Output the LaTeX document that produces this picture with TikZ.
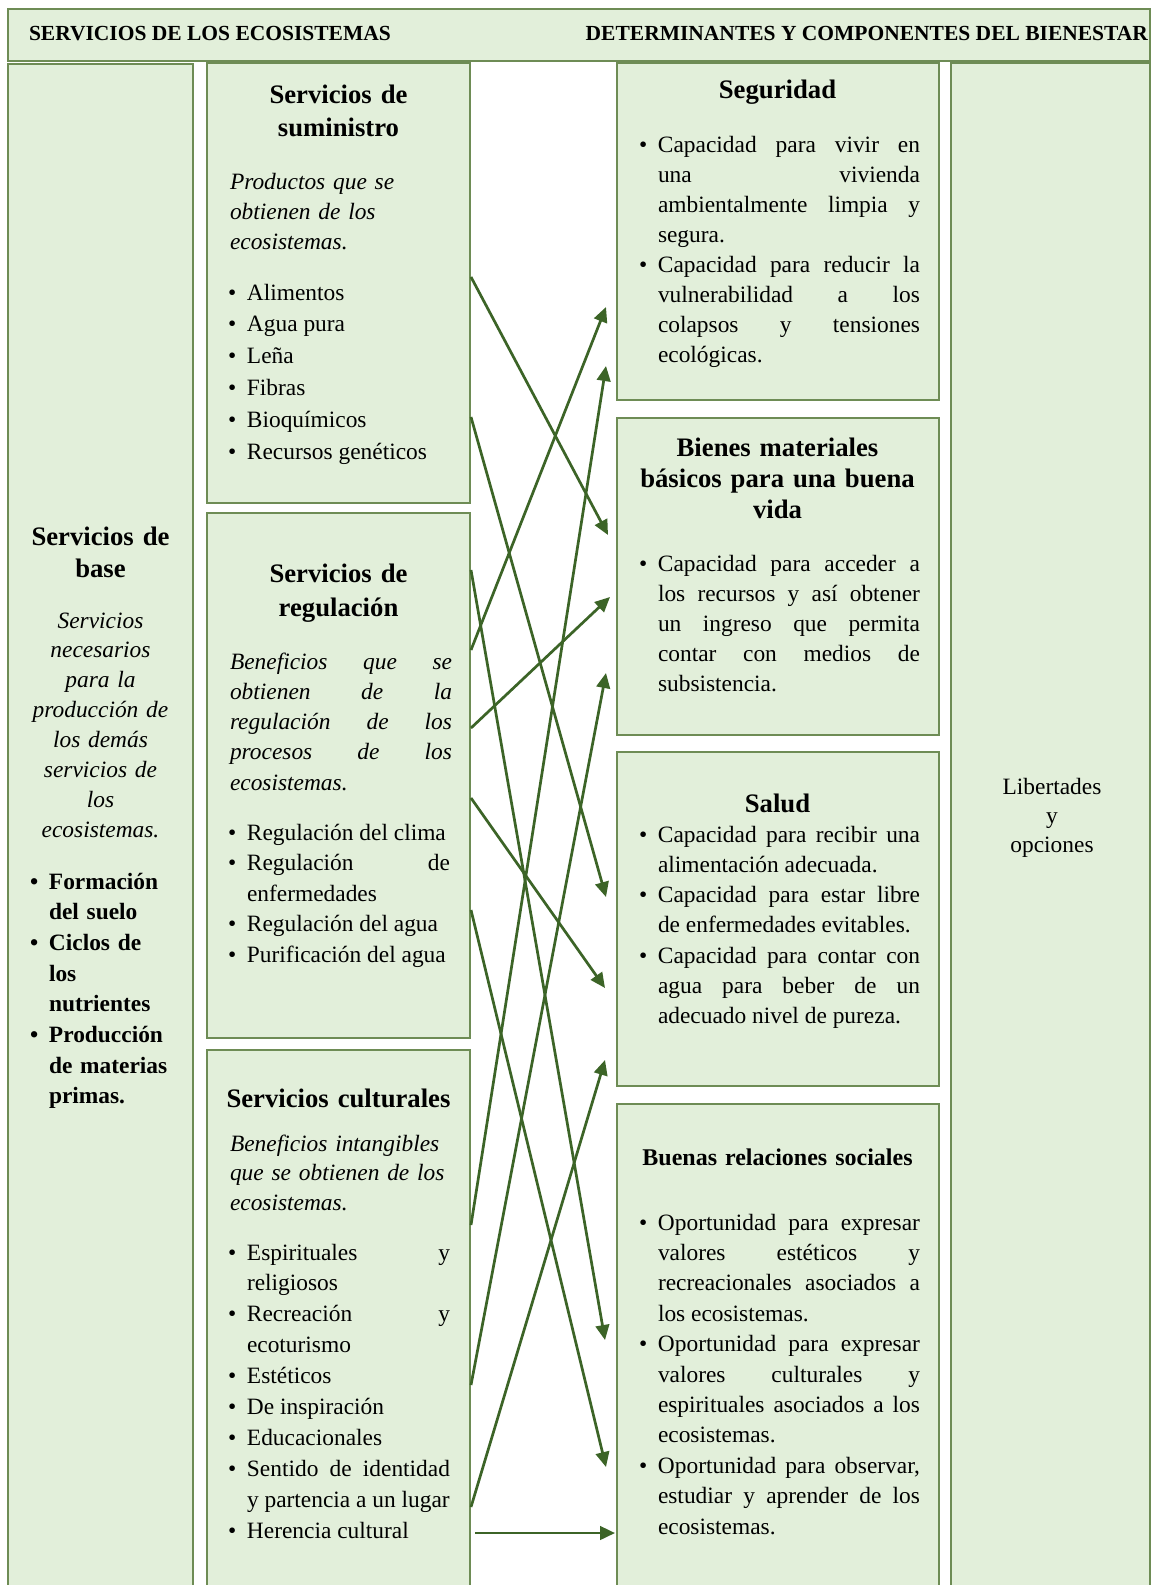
\documentclass[tikz,border=0pt]{standalone}
\usepackage{fontspec}
\setmainfont{Liberation Serif}
\usetikzlibrary{arrows.meta,calc}
\definecolor{boxfill}{HTML}{E2EFDA}
\definecolor{boxline}{HTML}{6E8C55}
\definecolor{arrowc}{HTML}{3C6427}
\newlength{\bh}
\newcommand{\bitem}[1]{\hangindent=\bh\hangafter=1\noindent\makebox[\bh][l]{\textbullet}#1\par}
\begin{document}
\begin{tikzpicture}[x=0.5pt,y=-0.5pt,
  box/.style={draw=boxline,fill=boxfill,line width=1pt,inner sep=0pt,outer sep=0pt,anchor=north west},
  arr/.style={draw=arrowc,line width=1.35pt,-{Triangle[length=7.5pt,width=6.8pt]}},
  txt/.style={inner sep=0pt,outer sep=0pt,text=black},
  headf/.style={txt,font=\fontsize{13.35pt}{#1}\selectfont\bfseries,align=center,anchor=base},
  ital/.style={txt,font=\fontsize{11.7pt}{#1}\selectfont\itshape,anchor=base west},
  bodyl/.style={txt,font=\fontsize{11.7pt}{#1}\selectfont,anchor=base west},
  hdrtxt/.style={txt,font=\fontsize{10.75pt}{12pt}\selectfont\bfseries}
]
\useasboundingbox (0,0) rectangle (1151,1585);
\fill[white] (0,0) rectangle (1151,1585);
\clip (0,0) rectangle (1151,1585);

% boxes
\node[box,minimum width=571pt,minimum height=26pt] (hdr) at (8,9) {};
\node[box,minimum width=92.5pt,minimum height=800pt] (lc) at (8,64) {};
\node[box,minimum width=131.5pt,minimum height=220pt] (sum) at (207,63) {};
\node[box,minimum width=131.5pt,minimum height=262.5pt] (reg) at (207,513) {};
\node[box,minimum width=131.5pt,minimum height=300pt] (cul) at (207,1050) {};
\node[box,minimum width=161pt,minimum height=168.5pt] (seg) at (617,63) {};
\node[box,minimum width=161pt,minimum height=158.5pt] (bien) at (617,418) {};
\node[box,minimum width=161pt,minimum height=167pt] (sal) at (617,752) {};
\node[box,minimum width=161pt,minimum height=300pt] (br) at (617,1104) {};
\node[box,minimum width=99.5pt,minimum height=800pt] (rc) at (951,63) {};

% header texts
\node[hdrtxt,anchor=base west] (h1) at (29,40) {SERVICIOS DE LOS ECOSISTEMAS};
\node[hdrtxt,anchor=base east] (h2) at (1148,40) {DETERMINANTES Y COMPONENTES DEL BIENESTAR};

% left column
\node[headf=16pt,text width=88pt] (lch) at (100.5,545) {Servicios de\\base};
\node[ital=14.95pt,align=center,anchor=base,text width=88pt] (lci) at (100.5,628)
  {Servicios\\necesarios\\para la\\producción de\\los demás\\servicios de\\los\\ecosistemas.};
\node[txt,font=\fontsize{11.7pt}{15.35pt}\selectfont\bfseries,anchor=base west,text width=77.5pt,align=left] (lcl) at (30,889)
  {\setlength{\bh}{9.5pt}\bitem{Formación\newline del suelo}\bitem{Ciclos de\newline los\newline nutrientes}\bitem{Producción\newline de materias\newline primas.}};

% suministro
\node[headf=16.5pt,text width=125pt] (sumh) at (338.5,103) {Servicios de\\suministro};
\node[ital=15pt,text width=111pt,align=left] (sumi) at (230,189) {Productos que se\\obtienen de los\\ecosistemas.};
\node[bodyl=15.9pt,text width=111pt,align=justify] (suml) at (228,300)
  {\setlength{\bh}{9.5pt}\bitem{Alimentos}\bitem{Agua pura}\bitem{Leña}\bitem{Fibras}\bitem{Bioquímicos}\bitem{Recursos genéticos}};

% regulacion
\node[headf=17pt,text width=125pt] (regh) at (338.5,582) {Servicios de\\regulación};
\node[ital=15.15pt,text width=111pt,align=justify] (regi) at (230,669)
  {Beneficios que se\linebreak obtienen de la\linebreak regulación de los\linebreak procesos de los\linebreak ecosistemas.};
\node[bodyl=15.25pt,text width=111pt,align=justify] (regl) at (228,840)
  {\setlength{\bh}{9.5pt}\bitem{Regulación del clima}\bitem{Regulación de\linebreak enfermedades}\bitem{Regulación del agua}\bitem{Purificación del agua}};

% culturales
\node[headf=16.5pt,text width=125pt] (culh) at (338.5,1107) {Servicios culturales};
\node[ital=14.75pt,text width=111pt,align=left] (culi) at (230,1151) {Beneficios intangibles\\que se obtienen de los\\ecosistemas.};
\node[bodyl=15.45pt,text width=111pt,align=justify] (cull) at (228,1260)
  {\setlength{\bh}{9.5pt}\bitem{Espirituales y\linebreak religiosos}\bitem{Recreación y\linebreak ecoturismo}\bitem{Estéticos}\bitem{De inspiración}\bitem{Educacionales}\bitem{Sentido de identidad\linebreak y partencia a un lugar}\bitem{Herencia cultural}};

% seguridad
\node[headf=16.5pt,text width=150pt] (segh) at (777.5,98) {Seguridad};
\node[bodyl=15pt,text width=140.5pt,align=justify] (segl) at (639,152)
  {\setlength{\bh}{9.5pt}\bitem{Capacidad para vivir en\linebreak una vivienda\linebreak ambientalmente limpia y\linebreak segura.}\bitem{Capacidad para reducir la\linebreak vulnerabilidad a los\linebreak colapsos y tensiones\linebreak ecológicas.}};

% bienes
\node[headf=15.5pt,text width=150pt] (bienh) at (777.5,456) {Bienes materiales\\básicos para una buena\\vida};
\node[bodyl=15.1pt,text width=140.5pt,align=justify] (bienl) at (639,571)
  {\setlength{\bh}{9.5pt}\bitem{Capacidad para acceder a\linebreak los recursos y así obtener\linebreak un ingreso que permita\linebreak contar con medios de\linebreak subsistencia.}};

% salud
\node[headf=16.5pt,text width=150pt] (salh) at (777.5,812) {Salud};
\node[bodyl=15.15pt,text width=140.5pt,align=justify] (sall) at (639,842)
  {\setlength{\bh}{9.5pt}\bitem{Capacidad para recibir una\linebreak alimentación adecuada.}\bitem{Capacidad para estar libre\linebreak de enfermedades evitables.}\bitem{Capacidad para contar con\linebreak agua para beber de un\linebreak adecuado nivel de pureza.}};

% buenas relaciones
\node[txt,font=\fontsize{12pt}{15pt}\selectfont\bfseries,align=center,anchor=base,text width=150pt] (brh) at (777.5,1165) {Buenas relaciones sociales};
\node[bodyl=15.2pt,text width=140.5pt,align=justify] (brl) at (639,1230)
  {\setlength{\bh}{9.5pt}\bitem{Oportunidad para expresar\linebreak valores estéticos y\linebreak recreacionales asociados a\linebreak los ecosistemas.}\bitem{Oportunidad para expresar\linebreak valores culturales y\linebreak espirituales asociados a los\linebreak ecosistemas.}\bitem{Oportunidad para observar,\linebreak estudiar y aprender de los\linebreak ecosistemas.}};

% right column
\node[bodyl=14.5pt,align=center,anchor=base,text width=90pt] (rct) at (1052,794) {Libertades\\y\\opciones};

% arrows
\draw[arr] ($(sum.north east)+(1,214)$) -- ($(bien.north west)+(-9,117)$);
\draw[arr] ($(sum.north east)+(1,354)$) -- ($(sal.north west)+(-11,145)$);
\draw[arr] ($(reg.north east)+(1,137)$) -- ($(seg.north west)+(-11,244)$);
\draw[arr] ($(cul.north east)+(1,175)$) -- ($(seg.north west)+(-11,303)$);
\draw[arr] ($(reg.north east)+(1,215)$) -- ($(bien.north west)+(-7,179)$);
\draw[arr] ($(cul.north east)+(1,335)$) -- ($(bien.north west)+(-11,255)$);
\draw[arr] ($(reg.north east)+(1,57)$) -- ($(br.north west)+(-12,236)$);
\draw[arr] ($(reg.north east)+(1,285)$) -- ($(sal.north west)+(-12,236)$);
\draw[arr] ($(reg.north east)+(1,397)$) -- ($(br.north west)+(-11,363)$);
\draw[arr] ($(cul.north east)+(1,457)$) -- ($(sal.north west)+(-12,308)$);
\draw[arr] ($(cul.north east)+(5,483)$) -- ($(br.north west)+(-2,429)$);
\end{tikzpicture}
\end{document}
